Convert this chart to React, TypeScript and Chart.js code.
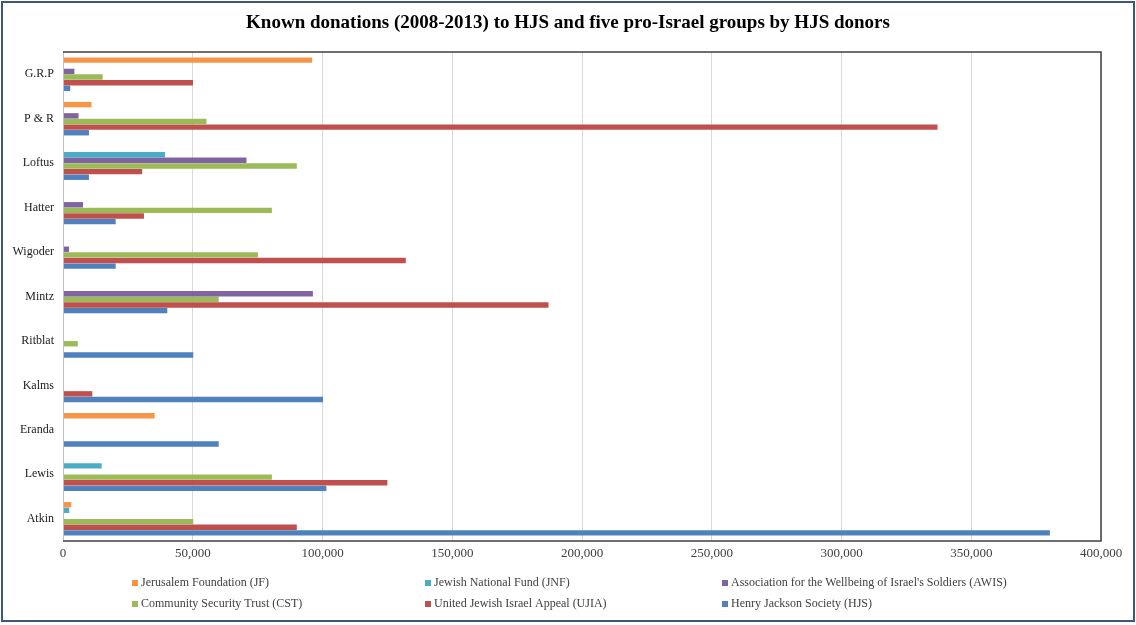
import React, { useEffect, useRef } from "react";
import { Chart, registerables } from "chart.js";

Chart.register(...registerables);

const TITLE = "Known donations (2008-2013) to HJS and five pro-Israel groups by HJS donors";

const donors = ["G.R.P", "P & R", "Loftus", "Hatter", "Wigoder", "Mintz", "Ritblat", "Kalms", "Eranda", "Lewis", "Atkin"];

const seriesNames = [
  "Jerusalem Foundation (JF)",
  "Jewish National Fund (JNF)",
  "Association for the Wellbeing of Israel's Soldiers (AWIS)",
  "Community Security Trust (CST)",
  "United Jewish Israel Appeal (UJIA)",
  "Henry Jackson Society (HJS)",
];

const jfValues = [96000, 11000, 0, 0, 0, 0, 0, 0, 35300, 0, 3200];
const jnfValues = [0, 0, 39300, 0, 0, 0, 0, 0, 0, 14900, 2400];
const awisValues = [4400, 6000, 70700, 7700, 2300, 96300, 0, 0, 0, 0, 0];
const cstValues = [15300, 55300, 90100, 80500, 75100, 60000, 5700, 0, 0, 80500, 50200];
const ujiaValues = [50100, 337000, 30500, 31200, 132100, 187100, 0, 11300, 0, 125000, 90100];
const hjsValues = [2800, 10000, 10000, 20300, 20300, 40200, 50200, 100200, 60000, 101500, 380300];

const xTicksMax = 400000;
const xTickStep = 50000;

const seriesColors = ["#F79646", "#4BACC6", "#8064A2", "#9BBB59", "#C0504D", "#4F81BD"];

const SERIF = "'Liberation Serif', 'DejaVu Serif', serif";

export default function App() {
  const canvasRef = useRef<HTMLCanvasElement | null>(null);

  useEffect(() => {
    const canvas = canvasRef.current;
    if (!canvas) return;
    const allValues = [jfValues, jnfValues, awisValues, cstValues, ujiaValues, hjsValues];

    const framePlugin = {
      id: "framePlugin",
      beforeDraw(chart: any) {
        const ctx = chart.ctx;
        ctx.save();
        ctx.fillStyle = "#ffffff";
        ctx.fillRect(0, 0, chart.width, chart.height);
        ctx.strokeStyle = "#3d5775";
        ctx.lineWidth = 2;
        ctx.strokeRect(2, 2, chart.width - 4, chart.height - 6);
        ctx.restore();
      },
      afterDraw(chart: any) {
        const ctx = chart.ctx;
        const a = chart.chartArea;
        ctx.save();
        // title
        ctx.font = `bold 19px ${SERIF}`;
        ctx.fillStyle = "#000000";
        ctx.textAlign = "center";
        ctx.textBaseline = "middle";
        ctx.fillText(TITLE, chart.width / 2, 23);
        // plot area box
        ctx.strokeStyle = "#bfbfbf";
        ctx.lineWidth = 1;
        ctx.beginPath();
        ctx.moveTo(a.left + 0.5, a.top);
        ctx.lineTo(a.left + 0.5, a.bottom);
        ctx.stroke();
        ctx.strokeStyle = "#404040";
        ctx.lineWidth = 1.5;
        ctx.beginPath();
        ctx.moveTo(a.left, a.top);
        ctx.lineTo(a.right, a.top);
        ctx.lineTo(a.right, a.bottom);
        ctx.lineTo(a.left, a.bottom);
        ctx.stroke();
        // legend
        const colX = [132, 425, 722];
        const rowY = [583, 604];
        ctx.font = `12px ${SERIF}`;
        ctx.textBaseline = "middle";
        ctx.textAlign = "left";
        chart.data.datasets.forEach((ds: any, i: number) => {
          const x = colX[i % 3];
          const y = rowY[Math.floor(i / 3)];
          ctx.fillStyle = ds.backgroundColor;
          ctx.fillRect(x, y - 3, 6, 6);
          ctx.fillStyle = "#404040";
          ctx.fillText(ds.label, x + 9, y);
        });
        ctx.restore();
      },
    };

    const chart = new Chart(canvas, {
      type: "bar",
      data: {
        labels: donors,
        datasets: seriesNames.map((name, i) => ({
          label: name,
          data: allValues[i],
          backgroundColor: seriesColors[i],
          borderWidth: 0,
          categoryPercentage: 0.76,
          barPercentage: 0.96,
        })),
      },
      options: {
        indexAxis: "y",
        responsive: false,
        animation: false,
        layout: { padding: { left: 0, right: 35, top: 52, bottom: 60 } },
        plugins: {
          legend: { display: false },
          tooltip: { enabled: false },
          title: { display: false },
        },
        scales: {
          x: {
            min: 0,
            max: xTicksMax,
            border: { display: false },
            grid: { color: "#d9d9d9", lineWidth: 1, drawTicks: false },
            ticks: {
              stepSize: xTickStep,
              padding: 5,
              color: "#404040",
              font: { family: SERIF, size: 13 },
              callback: (v: any) => Number(v).toLocaleString("en-US"),
            },
            afterFit: (scale: any) => {
              scale.height = 24;
            },
          },
          y: {
            border: { display: false },
            grid: { display: false, drawTicks: false },
            ticks: {
              padding: 9,
              color: "#1a1a1a",
              font: { family: SERIF, size: 12 },
            },
            afterFit: (scale: any) => {
              scale.width = 63;
            },
          },
        },
      },
      plugins: [framePlugin],
    } as any);

    return () => chart.destroy();
  }, []);

  return (
    <div style={{ position: "fixed", left: 0, top: 0, width: 1136, height: 625, background: "#fff" }}>
      <canvas ref={canvasRef} width={1136} height={625} style={{ display: "block" }} />
    </div>
  );
}
